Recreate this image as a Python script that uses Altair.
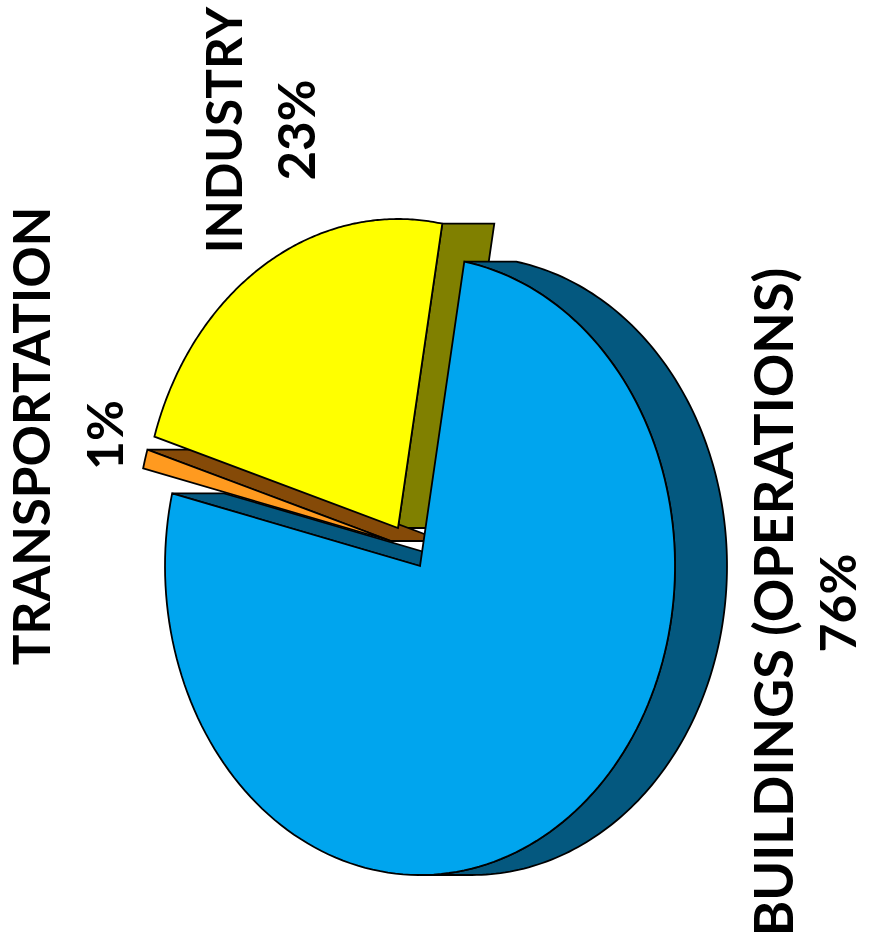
import numpy as np
import pandas as pd
import altair as alt

# Sector names and their shares of the total, drawn from Buildings round the pie
sectors = ["BUILDINGS (OPERATIONS)", "INDUSTRY", "TRANSPORTATION"]
shares = [76, 23, 1]
share_labels = ["76%", "23%", "1%"]
top_colors = ["#00A5EE", "#FFFF00", "#FF9A1F"]
wall_colors = ["#04587F", "#808000", "#854A08"]

WIDTH, HEIGHT = 870, 951
CX, CY = 420.0, 566.0      # centre of the pie's top face
RX, RY = 255.0, 309.0      # the face is an ellipse
DEPTH = 52.0               # thickness of the disc, drawn towards the right
START = 80.0               # where the Industry slice starts, degrees
OFFSETS = {"INDUSTRY": (-22.0, -38.0), "TRANSPORTATION": (-29.0, -25.0), "BUILDINGS (OPERATIONS)": (0.0, 0.0)}

sweep = {name: 3.6 * share for name, share in zip(sectors, shares)}
a_ind = START
a_trn = a_ind + sweep["INDUSTRY"]
a_bld = a_trn + sweep["TRANSPORTATION"]
a_end = a_bld + sweep["BUILDINGS (OPERATIONS)"]


def rim(t0, t1, off=(0.0, 0.0), shift=0.0, n=160):
    t = np.radians(np.linspace(t0, t1, n))
    return np.column_stack([CX + off[0] + shift + RX * np.cos(t), CY + off[1] - RY * np.sin(t)])


def wedge(t0, t1, off):
    tip = np.array([[CX + off[0], CY + off[1]]])
    return np.vstack([tip, rim(t0, t1, off)])


def wall(angle, off):
    a = rim(angle, angle, off, n=1)[0]
    tip = np.array([CX + off[0], CY + off[1]])
    return np.array([tip, a, a + [DEPTH, 0], tip + [DEPTH, 0]])


def side(t0, t1):
    return np.vstack([rim(t0, t1, shift=DEPTH), rim(t1, t0)])


def polygon(points, fill):
    frame = pd.DataFrame({"px": points[:, 0], "py": points[:, 1], "i": np.arange(len(points))})
    return alt.Chart(frame).mark_line(
        fill=fill, stroke="#000000", strokeWidth=1.8, interpolate="linear-closed", strokeJoin="miter"
    ).encode(
        x=alt.X("px:Q", scale=alt.Scale(domain=[0, WIDTH]), axis=None),
        y=alt.Y("py:Q", scale=alt.Scale(domain=[HEIGHT, 0]), axis=None),
        order="i:Q",
    )


off_i, off_t, off_b = (OFFSETS[s] for s in ["INDUSTRY", "TRANSPORTATION", "BUILDINGS (OPERATIONS)"])
pieces = [
    polygon(wall(a_ind, off_i), wall_colors[1]),
    polygon(wall(a_trn, off_t), wall_colors[2]),
    polygon(wall(a_bld, off_b), wall_colors[0]),
    polygon(side(a_ind, -90), wall_colors[0]),
    polygon(wedge(a_trn, a_bld, off_t), top_colors[2]),
    polygon(wedge(a_ind, a_trn, off_i), top_colors[1]),
    polygon(wedge(a_bld, a_end, off_b), top_colors[0]),
]

# Captions run bottom to top beside the pie: (across, along, type size) for name and share
placement = {
    "BUILDINGS (OPERATIONS)": ((777, 602, 54), (841, 603, 50)),
    "INDUSTRY": ((227, 130, 49.5), (300, 130, 51)),
    "TRANSPORTATION": ((35, 436, 51.3), (108, 435, 50)),
}
rows = []
for name, pct in zip(sectors, share_labels):
    for text, (across, along, size) in zip((name, pct), placement[name]):
        rows.append({"text": text, "px": across, "py": along, "pt": size})
labels = alt.Chart(pd.DataFrame(rows)).mark_text(
    angle=270, align="center", baseline="middle", font="Lato", fontWeight="bold", color="#000000"
).encode(
    x=alt.X("px:Q", scale=alt.Scale(domain=[0, WIDTH]), axis=None),
    y=alt.Y("py:Q", scale=alt.Scale(domain=[HEIGHT, 0]), axis=None),
    size=alt.Size("pt:Q", scale=None),
    text="text:N",
)

chart = alt.layer(*pieces, labels).properties(
    width=WIDTH, height=HEIGHT, padding=0, autosize=alt.AutoSizeParams(type="none"), background="#FFFFFF"
).configure_view(stroke=None)

chart.save("out.html", embed_options={"renderer": "svg", "actions": False})
